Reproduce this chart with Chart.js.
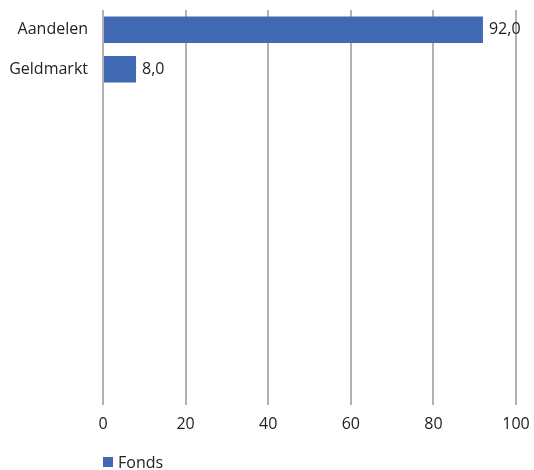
<!DOCTYPE html>
<html>
<head>
<meta charset="utf-8">
<script src="https://cdn.jsdelivr.net/npm/chart.js@4"></script>
<style>
  html, body { margin: 0; padding: 0; background: #fff; }
  #wrap { width: 534px; height: 470px; position: relative; }
</style>
</head>
<body>
<div id="wrap"><canvas id="chart"></canvas></div>
<script>
// Data
const categories = ['Aandelen', 'Geldmarkt', '', '', '', '', '', '', '', ''];
const fondsValues = [92.0, 8.0, null, null, null, null, null, null, null, null];
const xTicks = [0, 20, 40, 60, 80, 100];
const seriesName = 'Fonds';

const FONT = '"Open Sans", "Segoe UI", sans-serif';
const BLUE = '#4169b4';

// value labels after bar ends
const valueLabels = {
  id: 'valueLabels',
  afterDatasetsDraw(chart) {
    const ctx = chart.ctx;
    const meta = chart.getDatasetMeta(0);
    ctx.save();
    ctx.font = '16px ' + FONT;
    ctx.fillStyle = '#222';
    ctx.textBaseline = 'middle';
    ctx.textAlign = 'left';
    meta.data.forEach((bar, i) => {
      const v = fondsValues[i];
      if (v == null) return;
      ctx.fillText(v.toFixed(1).replace('.', ','), bar.x + 6, bar.y);
    });
    ctx.restore();
  }
};

// legend drawn under chart area, left aligned with axis
const bottomLegend = {
  id: 'bottomLegend',
  afterDraw(chart) {
    const ctx = chart.ctx;
    const x = chart.chartArea.left;
    const y = 462;
    ctx.save();
    ctx.fillStyle = BLUE;
    ctx.fillRect(x, y - 5, 10, 10);
    ctx.font = '16px ' + FONT;
    ctx.fillStyle = '#222';
    ctx.textBaseline = 'middle';
    ctx.fillText(seriesName, x + 15, y + 1);
    ctx.restore();
  }
};

new Chart(document.getElementById('chart').getContext('2d'), {
  type: 'bar',
  data: {
    labels: categories,
    datasets: [{
      label: seriesName,
      data: fondsValues,
      backgroundColor: BLUE,
      barPercentage: 0.82,
      categoryPercentage: 0.82
    }]
  },
  options: {
    indexAxis: 'y',
    responsive: true,
    maintainAspectRatio: false,
    animation: false,
    layout: { padding: { top: 10, right: 18, bottom: 0, left: 0 } },
    plugins: {
      legend: { display: false },
      tooltip: { enabled: false }
    },
    scales: {
      x: {
        min: 0,
        max: 100,
        afterBuildTicks(axis) { axis.ticks = xTicks.map(v => ({ value: v })); },
        afterFit(axis) {
          axis.height = 65;
          axis.paddingLeft = 0;
          axis.paddingRight = 0;
        },
        border: { display: false },
        grid: { color: '#b2b2b2', lineWidth: 2, drawTicks: false },
        ticks: { padding: 10, color: '#222', font: { family: FONT, size: 16 } }
      },
      y: {
        afterFit(axis) {
          axis.width = 103;
          axis.paddingTop = 0;
          axis.paddingBottom = 0;
        },
        border: { display: false },
        grid: { display: false, drawTicks: false },
        ticks: { padding: 15, color: '#222', font: { family: FONT, size: 16 } }
      }
    }
  },
  plugins: [valueLabels, bottomLegend]
});
</script>
</body>
</html>
